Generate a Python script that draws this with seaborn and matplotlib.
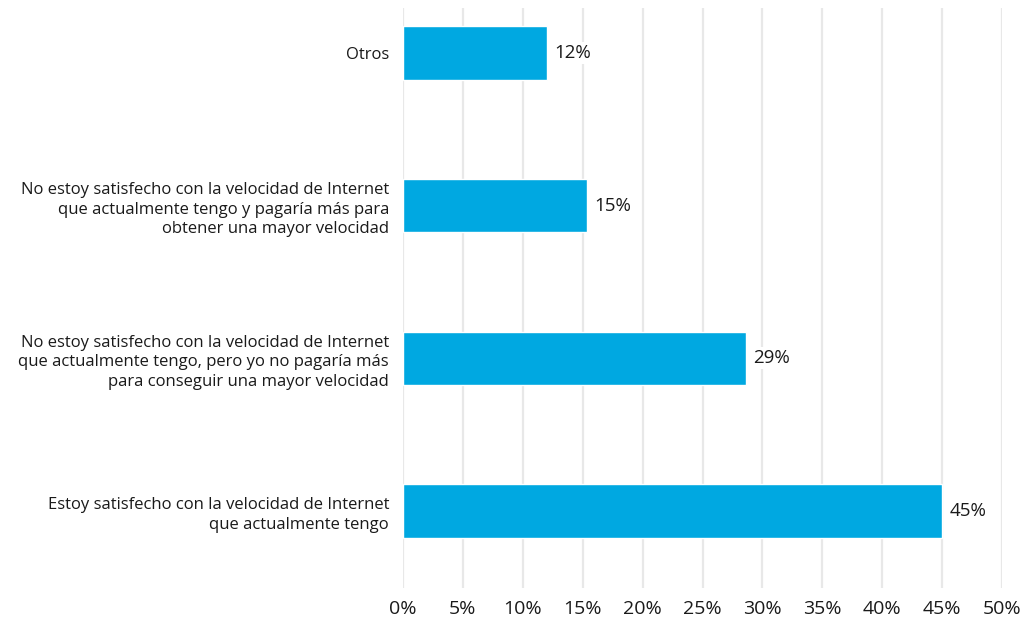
import seaborn as sns
import matplotlib.pyplot as plt
import pandas as pd

categorias = [
    "Otros",
    "No estoy satisfecho con la velocidad de Internet\nque actualmente tengo y pagaría más para\nobtener una mayor velocidad",
    "No estoy satisfecho con la velocidad de Internet\nque actualmente tengo, pero yo no pagaría más\npara conseguir una mayor velocidad",
    "Estoy satisfecho con la velocidad de Internet\nque actualmente tengo",
]
valores = [12.0, 15.4, 28.6, 45.0]
etiquetas = ["12%", "15%", "29%", "45%"]
ticks = [0, 5, 10, 15, 20, 25, 30, 35, 40, 45, 50]

sns.set_style("white")
plt.rcParams['font.family'] = ['Open Sans', 'DejaVu Sans']

df = pd.DataFrame({"cat": categorias, "val": valores})

fig = plt.figure(figsize=(10.29, 6.19), dpi=100)
ax = fig.add_axes([403 / 1029, 31 / 619, 599 / 1029, 580 / 619])

sns.barplot(data=df, y="cat", x="val", orient="h", color="#00A8E1",
            saturation=1, width=0.35, ax=ax, zorder=3)

for i, (v, t) in enumerate(zip(valores, etiquetas)):
    ax.text(v + 0.6, i, t, va="center", ha="left", fontsize=13.5, color="#1a1a1a",
            bbox=dict(facecolor="white", edgecolor="none", pad=1.5), zorder=4)

ax.set_xlim(0, 50)
ax.set_ylim(3.504, -0.295)
ax.set_xticks(ticks)
ax.set_xticklabels([f"{t}%" for t in ticks], fontsize=14, color="#1a1a1a")
ax.tick_params(axis="x", length=0, pad=9)
ax.tick_params(axis="y", length=0, pad=10, labelsize=12, labelcolor="#1a1a1a")
for lbl in ax.get_yticklabels():
    lbl.set_linespacing(1.3)
ax.set_xlabel("")
ax.set_ylabel("")
ax.xaxis.grid(True, color="#e8e8e8", linewidth=1.6, zorder=0)
ax.set_axisbelow(True)
for s in ax.spines.values():
    s.set_visible(False)

plt.savefig("out.png", dpi=100)
